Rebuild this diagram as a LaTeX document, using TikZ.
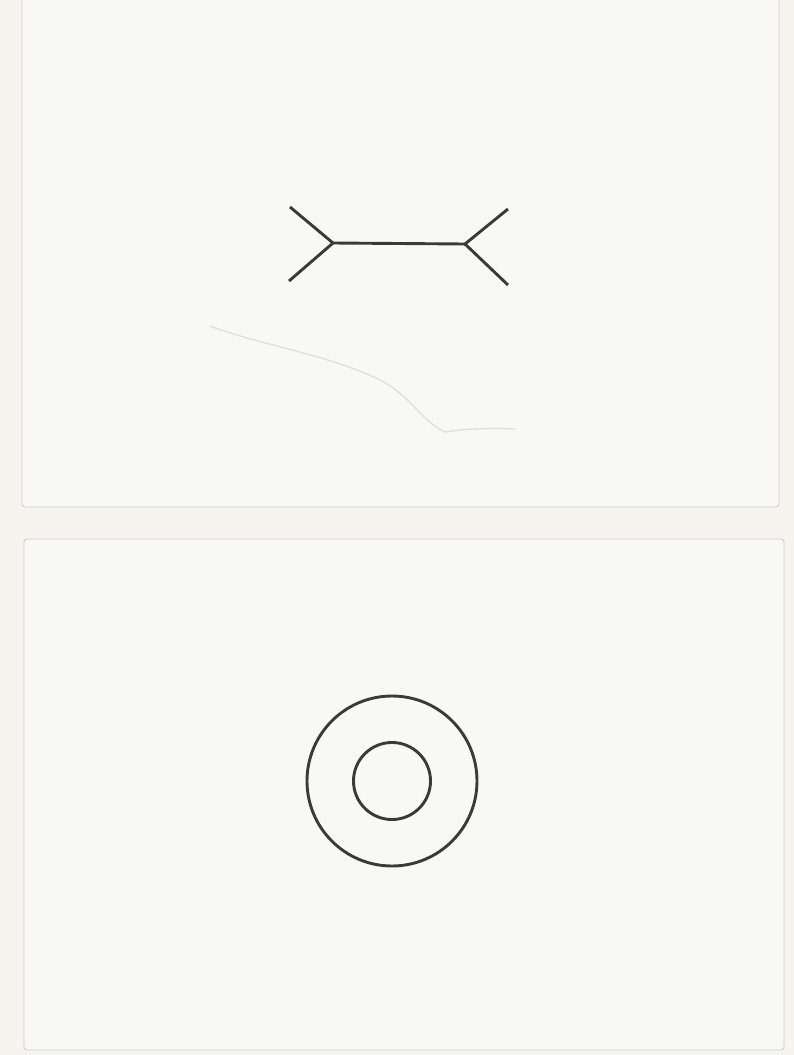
\documentclass[tikz,border=0pt]{standalone}
\begin{document}
\begin{tikzpicture}[x=1pt,y=-1pt,
  card/.style={fill=cardfill, draw=cardedge, line width=0.9pt, rounded corners=3pt},
  ink/.style={draw=inkc, line width=2.9pt}]
\definecolor{bgc}{HTML}{F6F4EE}
\definecolor{cardfill}{HTML}{F8F8F7}
\definecolor{cardedge}{HTML}{CFCCC4}
\definecolor{inkc}{HTML}{3A3A3A}
\definecolor{smudge}{HTML}{E0DFDB}
\useasboundingbox (0,0) rectangle (794,1055);
\fill[bgc] (0,0) rectangle (794,1055);
% cards
\path[card] (22,-5) rectangle (779,507);
\path[card] (24,539) rectangle (784,1050);
% faint smudge on top card
\draw[smudge, line width=1.4pt, line cap=round]
  (210,326) .. controls (260,345) and (330,355) .. (380,380)
  .. controls (410,395) and (420,420) .. (445,432)
  .. controls (470,428) and (495,428) .. (515,429);
% Mueller-Lyer figure
\coordinate (L) at (333,243);
\coordinate (R) at (465,244);
\coordinate (LT) at (290,207);
\coordinate (LB) at (289,281);
\coordinate (RT) at (508,209);
\coordinate (RB) at (508,285);
\draw[ink] (L) -- (R);
\draw[ink] (LT) -- (L) -- (LB);
\draw[ink] (RT) -- (R) -- (RB);
% concentric circles
\coordinate (C) at (392,781);
\draw[ink] (C) circle[radius=85];
\draw[ink] (C) circle[radius=38.5];
\end{tikzpicture}
\end{document}
